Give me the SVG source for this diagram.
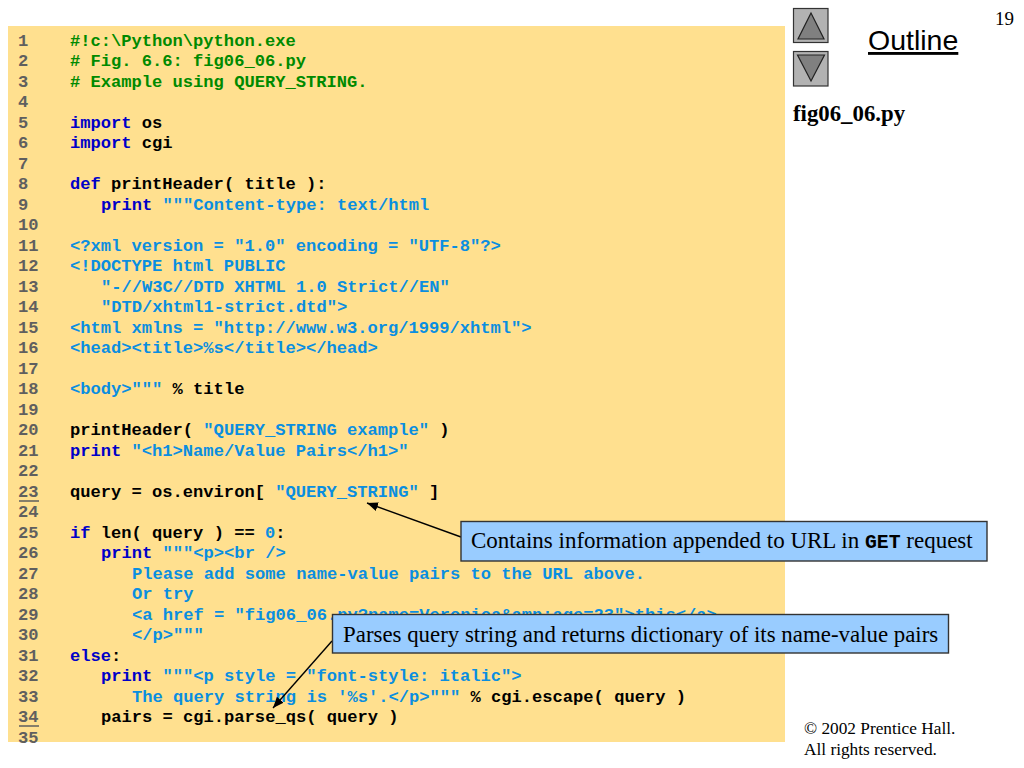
<svg xmlns="http://www.w3.org/2000/svg" width="1024" height="768" viewBox="0 0 1024 768">
<defs>
<style>
text{white-space:pre}
.n{font:bold 17.1px "Liberation Mono",monospace;fill:#5f5f5f}
.c{font:bold 17.1px "Liberation Mono",monospace;fill:#000}
.g{fill:#008a00}.k{fill:#0000c8}.s{fill:#0a8ee0}
.box{fill:#99ccff;stroke:#333;stroke-width:1.4}
.lab{font:23px "Liberation Serif",serif;fill:#000}
.btn{fill:#b2b2b2;stroke:#333;stroke-width:1.2}
.tri{fill:#808080;stroke:#222;stroke-width:1.2}
.arr{stroke:#000;stroke-width:1.4;fill:none;marker-end:url(#h)}
.tm{font:17.3px "Liberation Serif",serif;fill:#000}
</style>
<marker id="h" markerUnits="userSpaceOnUse" markerWidth="12" markerHeight="10" refX="11" refY="4.5" orient="auto"><path d="M0 0L11 4.5L0 9z" fill="#000"/></marker>
</defs>
<rect width="1024" height="768" fill="#fff"/>
<rect id="panel" x="8" y="26" width="777" height="716" fill="#ffe08f"/>
<g id="line-numbers">
<g transform="translate(0 -0.6)">
<text class="n" x="18" y="46.5">1</text><text class="n" x="18" y="67">2</text><text class="n" x="18" y="87.5">3</text><text class="n" x="18" y="108">4</text><text class="n" x="18" y="128.5">5</text><text class="n" x="18" y="149">6</text><text class="n" x="18" y="169.4">7</text><text class="n" x="18" y="189.9">8</text><text class="n" x="18" y="210.4">9</text><text class="n" x="18" y="230.9">10</text><text class="n" x="18" y="251.4">11</text><text class="n" x="18" y="271.9">12</text><text class="n" x="18" y="292.4">13</text><text class="n" x="18" y="312.9">14</text><text class="n" x="18" y="333.4">15</text><text class="n" x="18" y="353.9">16</text><text class="n" x="18" y="374.4">17</text><text class="n" x="18" y="394.9">18</text><text class="n" x="18" y="415.4">19</text><text class="n" x="18" y="435.9">20</text><text class="n" x="18" y="456.4">21</text><text class="n" x="18" y="476.9">22</text><text class="n" x="18" y="497.4">23</text><text class="n" x="18" y="517.9">24</text><text class="n" x="18" y="538.4">25</text><text class="n" x="18" y="558.9">26</text><text class="n" x="18" y="579.4">27</text><text class="n" x="18" y="599.9">28</text><text class="n" x="18" y="620.4">29</text><text class="n" x="18" y="640.9">30</text><text class="n" x="18" y="661.4">31</text><text class="n" x="18" y="681.9">32</text><text class="n" x="18" y="702.4">33</text><text class="n" x="18" y="722.9">34</text><text class="n" x="18" y="743.4">35</text>
</g>
<path d="M19 501H39M19 726H39" stroke="#5f5f5f" stroke-width="1.3" fill="none"/>
</g>
<g id="code" transform="translate(0 -0.6)">
<text class="c g" x="70" y="46.5">#!c:\Python\python.exe</text>
<text class="c g" x="70" y="67"># Fig. 6.6: fig06_06.py</text>
<text class="c g" x="70" y="87.5"># Example using QUERY_STRING.</text>
<text class="c" x="70" y="128.5"><tspan class="k">import</tspan> os</text>
<text class="c" x="70" y="149"><tspan class="k">import</tspan> cgi</text>
<text class="c" x="70" y="189.9"><tspan class="k">def</tspan> printHeader( title ):</text>
<text class="c" x="101" y="210.4"><tspan class="k">print</tspan> <tspan class="s">"""Content-type: text/html</tspan></text>
<text class="c s" x="70" y="251.4">&lt;?xml version = "1.0" encoding = "UTF-8"?&gt;</text>
<text class="c s" x="70" y="271.9">&lt;!DOCTYPE html PUBLIC</text>
<text class="c s" x="101" y="292.4">"-//W3C//DTD XHTML 1.0 Strict//EN"</text>
<text class="c s" x="101" y="312.9">"DTD/xhtml1-strict.dtd"&gt;</text>
<text class="c s" x="70" y="333.4">&lt;html xmlns = "http://www.w3.org/1999/xhtml"&gt;</text>
<text class="c s" x="70" y="353.9">&lt;head&gt;&lt;title&gt;%s&lt;/title&gt;&lt;/head&gt;</text>
<text class="c" x="70" y="394.9"><tspan class="s">&lt;body&gt;"""</tspan> % title</text>
<text class="c" x="70" y="435.9">printHeader( <tspan class="s">"QUERY_STRING example"</tspan> )</text>
<text class="c" x="70" y="456.4"><tspan class="k">print</tspan> <tspan class="s">"&lt;h1&gt;Name/Value Pairs&lt;/h1&gt;"</tspan></text>
<text class="c" x="70" y="497.4">query = os.environ[ <tspan class="s">"QUERY_STRING"</tspan> ]</text>
<text class="c" x="70" y="538.4"><tspan class="k">if</tspan> len( query ) == <tspan class="s">0</tspan>:</text>
<text class="c" x="101" y="558.9"><tspan class="k">print</tspan> <tspan class="s">"""&lt;p&gt;&lt;br /&gt;</tspan></text>
<text class="c s" x="132" y="579.4">Please add some name-value pairs to the URL above.</text>
<text class="c s" x="132" y="599.9">Or try</text>
<text class="c s" x="132" y="620.4">&lt;a href = "fig06_06.py?name=Veronica&amp;amp;age=23"&gt;this&lt;/a&gt;</text>
<text class="c s" x="132" y="640.9">&lt;/p&gt;"""</text>
<text class="c" x="70" y="661.4"><tspan class="k">else</tspan>:</text>
<text class="c" x="101" y="681.9"><tspan class="k">print</tspan> <tspan class="s">"""&lt;p style = "font-style: italic"&gt;</tspan></text>
<text class="c" x="132" y="702.4"><tspan class="s">The query string is '%s'.&lt;/p&gt;"""</tspan> % cgi.escape( query )</text>
<text class="c" x="101" y="722.9">pairs = cgi.parse_qs( query )</text>
</g>
<g id="connectors">
<path class="arr" d="M461 537L367 503"/>
<path class="arr" d="M332 641L273 708"/>
</g>
<g id="callout-get">
<rect class="box" x="461" y="521.500" width="526" height="39.500"/>
<text class="lab" x="471" y="548">Contains information appended to URL in <tspan font-family="Liberation Mono" font-weight="bold" font-size="19.800">GET</tspan> request</text>
</g>
<g id="callout-parse">
<rect class="box" x="332.500" y="614.500" width="616" height="38.500"/>
<text class="lab" x="343" y="642" style="font-size:22.88px">Parses query string and returns dictionary of its name-value pairs</text>
</g>
<g id="nav-up">
<rect class="btn" x="793.500" y="8.500" width="34.500" height="34"/>
<path class="tri" d="M811 13L798 39H824z"/>
</g>
<g id="nav-down">
<rect class="btn" x="793.500" y="51.500" width="34.500" height="34.500"/>
<path class="tri" d="M797.500 55H824.500L811 81z"/>
</g>
<g id="header">
<text x="868" y="50" font-family="Liberation Sans" font-size="28.500" fill="#000" text-decoration="underline">Outline</text>
<text x="995" y="25" font-family="Liberation Serif" font-size="19" fill="#000">19</text>
<text x="793" y="121" font-family="Liberation Serif" font-size="22.800" font-weight="bold" fill="#000">fig06_06.py</text>
<text class="tm" x="804" y="734">© 2002 Prentice Hall.</text>
<text class="tm" x="804" y="755">All rights reserved.</text>
</g>
</svg>
